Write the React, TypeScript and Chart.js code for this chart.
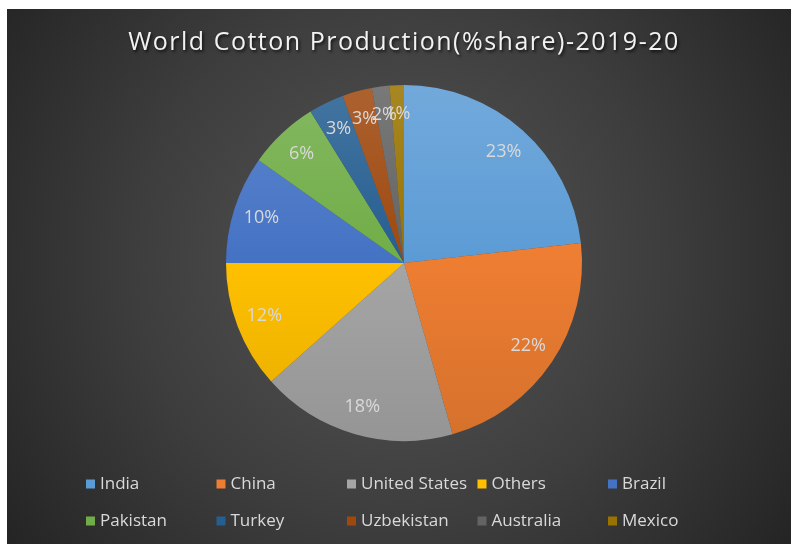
import React, { useEffect, useRef } from "react";
import { Chart, registerables } from "chart.js";
Chart.register(...registerables);

const TITLE = "World Cotton Production(%share)-2019-20";
const categories = ["India", "China", "United States", "Others", "Brazil", "Pakistan", "Turkey", "Uzbekistan", "Australia", "Mexico"];
const shares = [23.2, 22.4, 17.8, 11.6, 9.8, 6.4, 3.2, 2.7, 1.6, 1.3];
const colors = ["#5B9BD5", "#ED7D31", "#A5A5A5", "#FFC000", "#4472C4", "#70AD47", "#255E91", "#9E480E", "#636363", "#997300"];

const FONT = '"Open Sans", sans-serif';

function mix(hex: string, target: number, amt: number) {
  const n = parseInt(hex.slice(1), 16);
  const r = (n >> 16) & 255, g = (n >> 8) & 255, b = n & 255;
  const f = (c: number) => Math.round(c + (target - c) * amt);
  return `rgb(${f(r)},${f(g)},${f(b)})`;
}

const bgPlugin = {
  id: "bgPlugin",
  beforeDraw(chart: any) {
    const { ctx, width, height } = chart;
    ctx.save();
    const g = ctx.createRadialGradient(width / 2, height * 0.47, 0, width / 2, height * 0.47, width * 0.62);
    g.addColorStop(0, "#565656");
    g.addColorStop(0.55, "#3d3d3d");
    g.addColorStop(1, "#242424");
    ctx.fillStyle = g;
    ctx.fillRect(0, 0, width, height);
    ctx.restore();
  },
  afterDatasetsDraw(chart: any) {
    const { ctx } = chart;
    const meta = chart.getDatasetMeta(0);
    const data = chart.data.datasets[0].data as number[];
    const total = data.reduce((a, b) => a + b, 0);
    ctx.save();
    ctx.font = `18px ${FONT}`;
    ctx.fillStyle = "#d9d9d9";
    ctx.textAlign = "center";
    ctx.textBaseline = "middle";
    meta.data.forEach((arc: any, i: number) => {
      const p = arc.getProps(["x", "y", "startAngle", "endAngle", "outerRadius"], true);
      const mid = (p.startAngle + p.endAngle) / 2;
      const r = p.outerRadius * 0.84;
      ctx.fillText(`${Math.round((data[i] / total) * 100)}%`, p.x + Math.cos(mid) * r, p.y + Math.sin(mid) * r);
    });
    ctx.restore();
  },
  afterDraw(chart: any) {
    const { ctx, width } = chart;
    ctx.save();
    // title
    ctx.font = `25px ${FONT}`;
    (ctx as any).letterSpacing = "1.5px";
    ctx.fillStyle = "#f2f2f2";
    ctx.textAlign = "center";
    ctx.textBaseline = "middle";
    ctx.shadowColor = "rgba(0,0,0,0.7)";
    ctx.shadowBlur = 3;
    ctx.shadowOffsetX = 1.5;
    ctx.shadowOffsetY = 1.5;
    ctx.fillText(TITLE, width / 2 + 5, 34);
    ctx.restore();
    // legend
    ctx.save();
    ctx.font = `17px ${FONT}`;
    ctx.textBaseline = "middle";
    ctx.textAlign = "left";
    const labels = chart.data.labels as string[];
    labels.forEach((lab, i) => {
      const col = i % 5;
      const row = Math.floor(i / 5);
      const bx = 79 + col * 130.5;
      const cy = row === 0 ? 475 : 512;
      ctx.fillStyle = colors[i];
      ctx.fillRect(bx, cy - 4.5, 9, 9);
      ctx.fillStyle = "#d9d9d9";
      ctx.fillText(lab, bx + 14, cy);
    });
    ctx.restore();
  },
};

export default function App() {
  const ref = useRef<HTMLCanvasElement>(null);
  useEffect(() => {
    if (!ref.current) return;
    const chart = new Chart(ref.current, {
      type: "pie",
      data: {
        labels: categories,
        datasets: [
          {
            data: shares,
            backgroundColor: (c: any) => {
              const i = c.dataIndex;
              const area = c.chart.chartArea;
              if (!area) return colors[i];
              const g = c.chart.ctx.createLinearGradient(0, area.top, 0, area.bottom);
              g.addColorStop(0, mix(colors[i], 255, 0.14));
              g.addColorStop(0.5, colors[i]);
              g.addColorStop(1, mix(colors[i], 0, 0.1));
              return g;
            },
            borderWidth: 0,
          },
        ],
      },
      options: {
        responsive: true,
        maintainAspectRatio: false,
        animation: false,
        layout: { padding: { top: 76, bottom: 103, left: 10, right: 0 } },
        plugins: {
          legend: { display: false },
          title: { display: false },
          tooltip: { enabled: false },
        },
      },
      plugins: [bgPlugin],
    });
    return () => chart.destroy();
  }, []);
  return (
    <div style={{ position: "absolute", left: 7, top: 9, width: 784, height: 535 }}>
      <canvas ref={ref} />
    </div>
  );
}
